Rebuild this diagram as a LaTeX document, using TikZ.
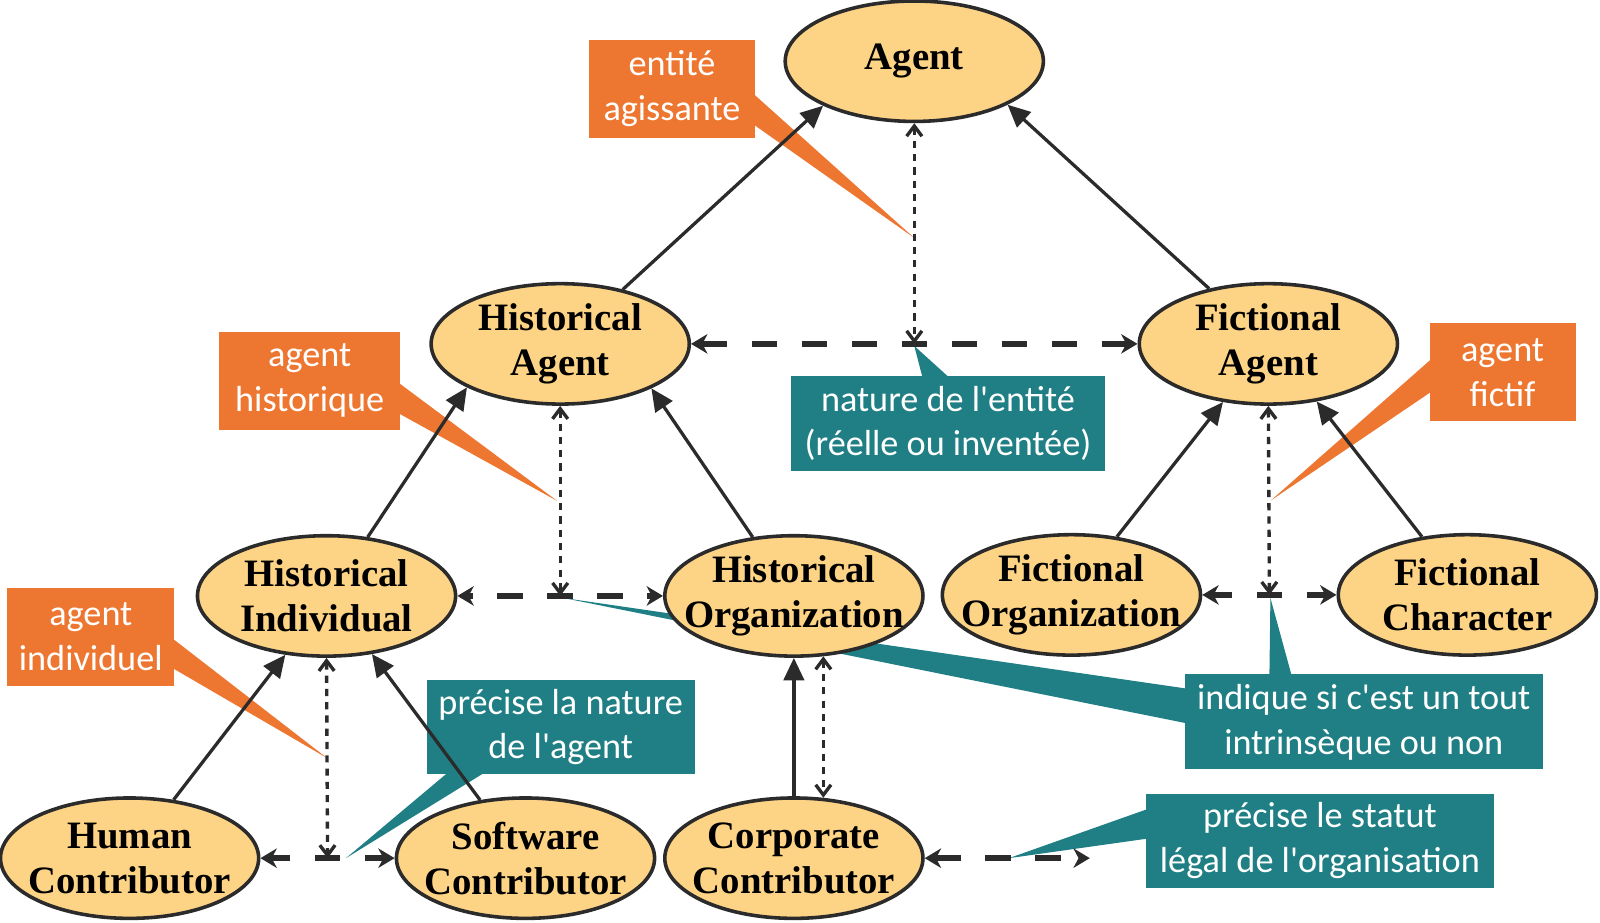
\documentclass[tikz,border=0pt]{standalone}
\usepackage{fontspec}
\setmainfont{Liberation Serif}
\newfontfamily\calfont{Carlito}[Ligatures=TeXOff]
\usetikzlibrary{shapes.geometric,arrows.meta,calc}
\definecolor{nodefill}{RGB}{253,211,133}
\definecolor{edgecol}{RGB}{43,43,43}
\definecolor{orng}{RGB}{237,119,49}
\definecolor{tealc}{RGB}{31,127,132}
\pgfdeclarelayer{bg}
\pgfsetlayers{bg,main}
\tikzset{
  tipS/.tip={Triangle[length=22pt,width=20pt]},
  tipD/.tip={Stealth[length=16pt,width=19pt,inset=5pt]},
  tipO/.tip={Straight Barb[length=10pt,width=15pt]},
  ell/.style={ellipse, draw=edgecol, line width=3.5pt, fill=nodefill,
    minimum width=253pt, minimum height=118pt, inner sep=0pt},
  etext/.style={font=\fontsize{38}{44}\selectfont\bfseries, align=center, text=black, inner sep=0pt},
  cbox/.style={font=\calfont\fontsize{35.5}{44}\selectfont, text=white, align=center, inner sep=0pt},
  obox/.style={cbox, fill=orng},
  tbox/.style={cbox, fill=tealc},
  sol/.style={draw=edgecol, line width=3.2pt, -tipS},
  dsh/.style={draw=edgecol, line width=5.5pt, dash pattern=on 25pt off 24pt, dash phase=12.5pt, -tipD},
  dotl/.style={draw=edgecol, line width=3.3pt, dash pattern=on 7pt off 6pt, tipO-tipO},
}
\begin{document}
\begin{tikzpicture}[x=1pt,y=-1pt]
\useasboundingbox (0,0) rectangle (1568,903.6);

% ellipse nodes
\node[ell, label={[etext]center:Agent}] (ag) at (896,60) {};
\node[ell, label={[etext]center:Historical\\Agent}] (ha) at (549,337) {};
\node[ell, label={[etext]center:Fictional\\Agent}] (fa) at (1243,337) {};
\node[ell, label={[etext]center:Historical\\Individual}] (hi) at (320,584) {};
\node[ell, label={[etext]center:Historical\\Organization}] (ho) at (778,584) {};
\node[ell, label={[etext]center:Fictional\\Organization}] (fo) at (1050,583) {};
\node[ell, label={[etext]center:Fictional\\Character}] (fc) at (1438,583) {};
\node[ell, label={[etext]center:Human\\Contributor}] (hc) at (127,841) {};
\node[ell, label={[etext]center:Software\\Contributor}] (sc) at (515,841) {};
\node[ell, label={[etext]center:Corporate\\Contributor}] (cc) at (778,841) {};

% midpoints
\coordinate (m1) at ($(ha)!0.5!(fa)$);
\coordinate (m2) at ($(hi)!0.5!(ho)$);
\coordinate (m3) at ($(fo)!0.5!(fc)$);
\coordinate (m4) at ($(hc)!0.5!(sc)$);
\coordinate (ce) at (1068,841);

% solid inheritance arrows
\draw[sol] (ha.41) -- (ag.206);
\draw[sol] (fa.137) -- (ag.335);
\draw[sol] (hi.55) -- (ha.205);
\draw[sol] (ho.125) -- (ha.334);
\draw[sol] (fo.52) -- (fa.232);
\draw[sol] (fc.128) -- (fa.310);
\draw[sol] (hc.53) -- (hi.235);
\draw[sol] (sc.128) -- (hi.308);
\draw[sol] (cc.north) -- (ho.south);

% dashed partition lines
\draw[dsh] (m1) -- (ha);
\draw[dsh] (m1) -- (fa);
\draw[dsh] (m2) -- (hi);
\draw[dsh] (m2) -- (ho);
\draw[dsh] (m3) -- (fo);
\draw[dsh] (m3) -- (fc);
\draw[dsh] (m4) -- (hc);
\draw[dsh] (m4) -- (sc);
\draw[dsh, tipD-tipD, dash phase=0pt] (cc) -- (ce);

% dotted attribute links
\draw[dotl] (ag.south) -- (m1);
\draw[dotl] (ha.south) -- (m2);
\draw[dotl] (fa.south) -- (m3);
\draw[dotl] (hi.south) -- (m4);
\draw[dotl] (ho.296) -- (cc.64);

\begin{pgfonlayer}{bg}
\node[obox, minimum width=163pt, minimum height=96pt] (o1) at (658.5,87) {entité\\agissante};
\node[obox, minimum width=177pt, minimum height=96pt] (o2) at (303.5,373) {agent\\historique};
\node[obox, minimum width=164pt, minimum height=96pt] (o3) at (89,624) {agent\\individuel};
\node[obox, minimum width=143pt, minimum height=96pt] (o4) at (1472.5,365) {agent\\fictif};
\node[tbox, minimum width=308pt, minimum height=94pt] (t1) at (929,415) {nature de l'entité\\(réelle ou inventée)};
\node[tbox, minimum width=263pt, minimum height=93pt] (t2) at (549.5,712.5) {précise la nature\\de l'agent};
\node[tbox, minimum width=351pt, minimum height=93pt] (t3) at (1336.5,707.5) {indique si c'est un tout\\intrinsèque ou non};
\node[tbox, minimum width=341pt, minimum height=92pt] (t4) at (1293.5,824) {précise le statut\\légal de l'organisation};

\fill[orng] ($(o1.north east)+(-2,53)$) -- ($(ag.south)!0.52!(m1)$) -- ($(o1.north east)+(-2,83)$) -- cycle;
\fill[orng] ($(o2.north east)+(-2,50)$) -- ($(ha.south)!0.5!(m2)+(-3,0)$) -- ($(o2.north east)+(-2,80)$) -- cycle;
\fill[orng] ($(o3.north east)+(-2,50)$) -- ($(hi.south)!0.5!(m4)$) -- ($(o3.north east)+(-2,79)$) -- cycle;
\fill[orng] ($(o4.north west)+(2,35)$) -- ($(fa.south)!0.5!(m3)+(2,0)$) -- ($(o4.north west)+(2,67)$) -- cycle;

\fill[tealc] ($(m1 |- t1.north)+(8,2)$) -- ($(m1)+(0,2)$) -- ($(m1 |- t1.north)+(34,2)$) -- cycle;
\fill[tealc] ($(t2.south west)+(21,-2)$) -- ($(m4)+(18,0)$) -- ($(t2.south west)+(57,-2)$) -- cycle;
\fill[tealc] ($(t3.north west)+(2,14)$) -- ($(m2)+(3,2)$) -- ($(t3.north west)+(2,48)$) -- cycle;
\fill[tealc] ($(m3 |- t3.north)+(0,2)$) -- ($(m3)+(1,3)$) -- ($(m3 |- t3.north)+(22,2)$) -- cycle;
\fill[tealc] ($(t4.north west)+(2,15)$) -- ($(cc.east)!0.51!(ce)$) -- ($(t4.north west)+(2,44)$) -- cycle;
\end{pgfonlayer}
\end{tikzpicture}
\end{document}
